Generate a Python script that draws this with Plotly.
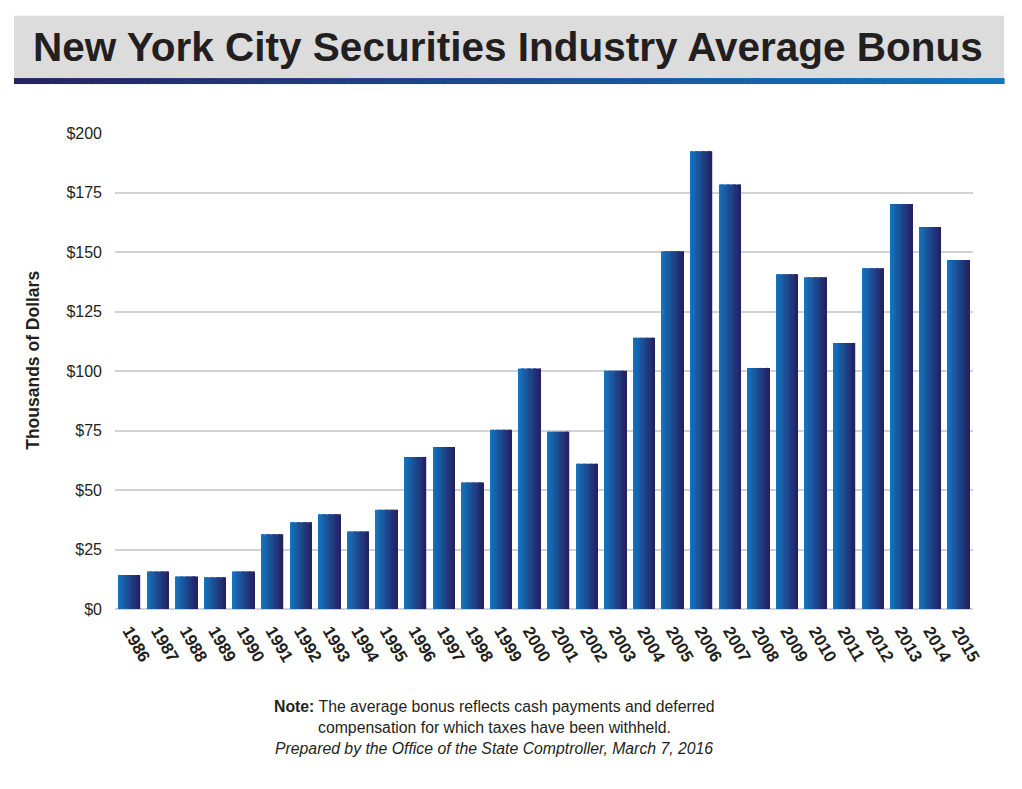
import plotly.graph_objects as go

years = [str(y) for y in range(1986, 2016)]
bonus = [14.3, 15.8, 13.7, 13.3, 15.8, 31.4, 36.4, 39.8, 32.6, 41.7,
         63.9, 68.1, 53.2, 75.3, 101.0, 74.5, 61.0, 100.1, 114.0, 150.3,
         192.3, 178.4, 101.3, 140.7, 139.4, 111.8, 143.2, 170.2, 160.5, 146.6]
ytick_vals = [0, 25, 50, 75, 100, 125, 150, 175, 200]
ytick_text = ["$" + str(v) for v in ytick_vals]

title_text = "New York City Securities Industry Average Bonus"
y_title = "Thousands of Dollars"
note_lines = [
    "<b>Note:</b> The average bonus reflects cash payments and deferred",
    "compensation for which taxes have been withheld.",
    "<i>Prepared by the Office of the State Comptroller, March 7, 2016</i>",
]

OFF = 8  # page body margin
W, H = 1022, 789
PX0, PX1, PY0, PY1 = 115, 973, 133, 609.5
L = PX0 - OFF
R = W - (PX1 - OFF)
T = PY0 - OFF
B = H - (PY1 - OFF)
pw, ph = W - L - R, H - T - B


def px2x(px):
    return (px - PX0) / pw


def py2y(py):
    return (PY1 - py) / ph


def lerp(c1, c2, t):
    return "rgb(%d,%d,%d)" % tuple(round(a + (b - a) * t) for a, b in zip(c1, c2))


light = (20, 118, 192)
dark = (36, 32, 96)

fig = go.Figure()
N = 18
bw = 0.76
for k in range(N):
    t = (k + 0.5) / N
    fig.add_trace(go.Bar(
        x=years, y=bonus,
        width=bw / N + 0.002,
        offset=-bw / 2 + k * bw / N,
        marker=dict(color=lerp(light, dark, t), line=dict(width=0)),
        showlegend=False, hoverinfo="x+y",
    ))

shapes = []
shapes.append(dict(type="rect", xref="paper", yref="paper",
                   x0=px2x(14), x1=px2x(1004), y0=py2y(78), y1=py2y(15.7),
                   fillcolor="#dcdcdc", line=dict(width=0), layer="below"))
M = 80
band_l, band_r = 14, 1004
for k in range(M):
    x0 = band_l + (band_r - band_l) * k / M
    x1 = band_l + (band_r - band_l) * (k + 1) / M + 0.6
    shapes.append(dict(type="rect", xref="paper", yref="paper",
                       x0=px2x(x0), x1=px2x(x1), y0=py2y(84), y1=py2y(78),
                       fillcolor=lerp((38, 34, 98), (18, 118, 190), (k + 0.5) / M),
                       line=dict(width=0), layer="below"))

annotations = [
    dict(text="<b>" + title_text + "</b>", xref="paper", yref="paper",
         x=px2x(507.5), y=py2y(47), xanchor="center", yanchor="middle",
         showarrow=False,
         font=dict(family="Liberation Sans, Arial, sans-serif",
                   size=40.5, color="#231f20")),
    dict(text="<b>" + y_title + "</b>", xref="paper", yref="paper",
         x=px2x(33), y=py2y(361), xanchor="center", yanchor="middle",
         textangle=-90, showarrow=False,
         font=dict(family="Liberation Sans, Arial, sans-serif", size=17.5, color="#231f20")),
]
for line, py in zip(note_lines, [707, 728.5, 749]):
    annotations.append(dict(text=line, xref="paper", yref="paper",
                            x=px2x(494), y=py2y(py), xanchor="center", yanchor="middle",
                            showarrow=False,
                            font=dict(family="Liberation Sans, Arial, sans-serif",
                                      size=15.8, color="#231f20")))

fig.update_layout(
    width=W, height=H,
    margin=dict(l=L, r=R, t=T, b=B),
    paper_bgcolor="white", plot_bgcolor="white",
    barmode="overlay",
    shapes=shapes, annotations=annotations,
    font=dict(family="Liberation Sans, Arial, sans-serif", color="#231f20"),
)
fig.update_xaxes(
    type="category", range=[-0.5, 29.5],
    tickangle=60, showgrid=False, showline=False, ticks="",
    tickfont=dict(family="Liberation Sans, Arial, sans-serif", size=17,
                  color="#231f20", weight="bold"),
    ticklabelstandoff=8,
)
fig.update_yaxes(
    range=[0, 200], tickvals=ytick_vals, ticktext=ytick_text,
    showgrid=True, gridcolor="#d2d2d2", gridwidth=1.6,
    zeroline=True, zerolinecolor="#d2d2d2", zerolinewidth=1.6,
    showline=False, ticks="",
    tickfont=dict(family="Liberation Sans, Arial, sans-serif", size=16, color="#231f20"),
    ticklabelstandoff=12,
)

fig.write_html("out.html")
